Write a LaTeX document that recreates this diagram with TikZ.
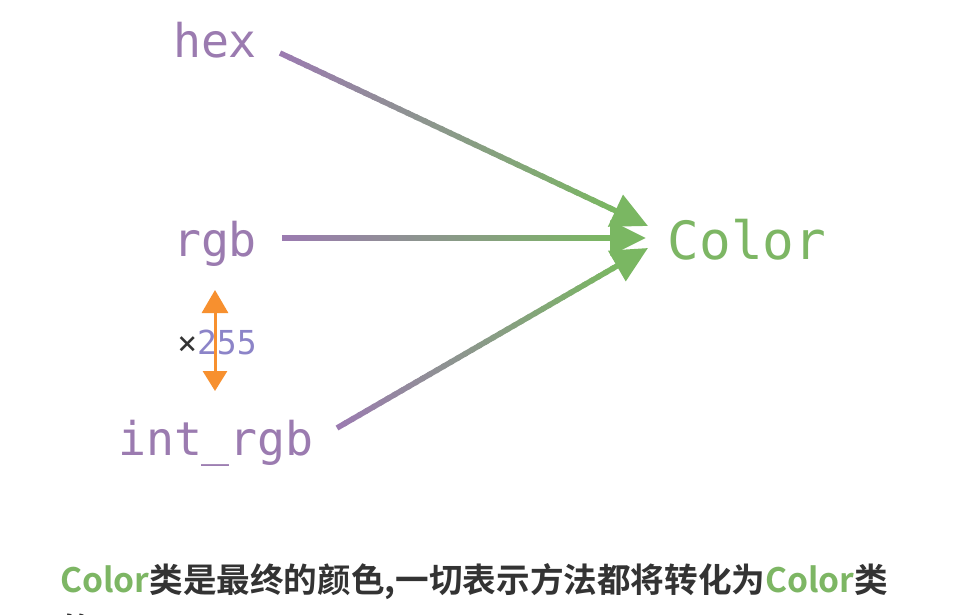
\documentclass[tikz,border=0pt]{standalone}
\usepackage{fontspec}
\usetikzlibrary{arrows.meta,calc}
\newfontfamily\monofont{DejaVu Sans Mono}
\newfontfamily\cjkbold{Noto Sans CJK SC Bold}
\definecolor{gpurple}{RGB}{155,123,176}
\definecolor{ggreen}{RGB}{122,183,98}
\definecolor{tgreen}{RGB}{125,182,100}
\definecolor{lav}{RGB}{140,132,200}
\definecolor{gorange}{RGB}{247,144,47}
\definecolor{dgrey}{RGB}{51,51,51}
\tikzset{
  lbl/.style={anchor=base, inner sep=0pt, text=gpurple, font=\monofont\fontsize{46.5}{50}\selectfont},
  gline/.style={line width=5.5pt},
  ghead/.style={line width=5.5pt, color=ggreen, -{Triangle[length=36pt,width=34pt]}},
}
\newcommand{\gradconn}[2]{%
  \foreach \i in {0,...,39}{%
    \pgfmathsetmacro\p{100*\i/39}%
    \pgfmathsetmacro\ta{\i/40}%
    \pgfmathsetmacro\tb{(\i+1.4)/40}%
    \draw[gline, color=ggreen!\p!gpurple] ($(#1)!\ta!(#2)$) -- ($(#1)!\tb!(#2)$);
  }%
}
\begin{document}
\begin{tikzpicture}[x=1pt,y=-1pt]
\useasboundingbox (0,0) rectangle (970,615);
\fill[white] (0,0) rectangle (970,615);
% labels
\node[lbl] (hex) at (215,58) {hex};
\node[lbl] (rgb) at (215,256) {rgb};
\node[lbl] (intrgb) at (216,455) {int\_rgb};
\node[anchor=base, inner sep=0pt, text=tgreen, font=\monofont\fontsize{52.7}{56}\selectfont] (color) at (747,259) {Color};
% connector end points
\coordinate (hexS) at (280,53);
\coordinate (rgbS) at (282,238);
\coordinate (intS) at (337,428);
\coordinate (hexT) at (648,226);
\coordinate (rgbT) at (646,238);
\coordinate (intT) at (648,248);
% where the gradient part stops
\coordinate (hexE) at ($(hexT)!34pt!(hexS)$);
\coordinate (rgbE) at ($(rgbT)!34pt!(rgbS)$);
\coordinate (intE) at ($(intT)!34pt!(intS)$);
\gradconn{hexS}{hexE}
\draw[ghead] (hexE) -- (hexT);
\gradconn{rgbS}{rgbE}
\draw[ghead] (rgbE) -- (rgbT);
\gradconn{intS}{intE}
\draw[ghead] (intE) -- (intT);
% x255
\node[anchor=center, inner sep=0pt, font=\monofont\fontsize{33}{36}\selectfont] (mul) at (217,342) {\textcolor{dgrey}{×}\textcolor{lav}{255}};
\coordinate (oTop) at (215,290);
\coordinate (oBot) at (215,391);
\draw[gorange, line width=3pt, {Triangle[length=23pt,width=26pt]}-{Triangle[length=20pt,width=24pt]}] (oTop) -- (oBot);
% caption
\node[anchor=base west, inner sep=0pt, text=dgrey, font=\cjkbold\fontsize{33.6}{40}\selectfont] (cap) at (60,592) {\textcolor{tgreen}{Color}类是最终的颜色,一切表示方法都将转化为\textcolor{tgreen}{Color}类};
\node[anchor=base west, inner sep=0pt, text=dgrey, font=\cjkbold\fontsize{33.6}{40}\selectfont] (cap2) at (60,642) {的};
\end{tikzpicture}
\end{document}
